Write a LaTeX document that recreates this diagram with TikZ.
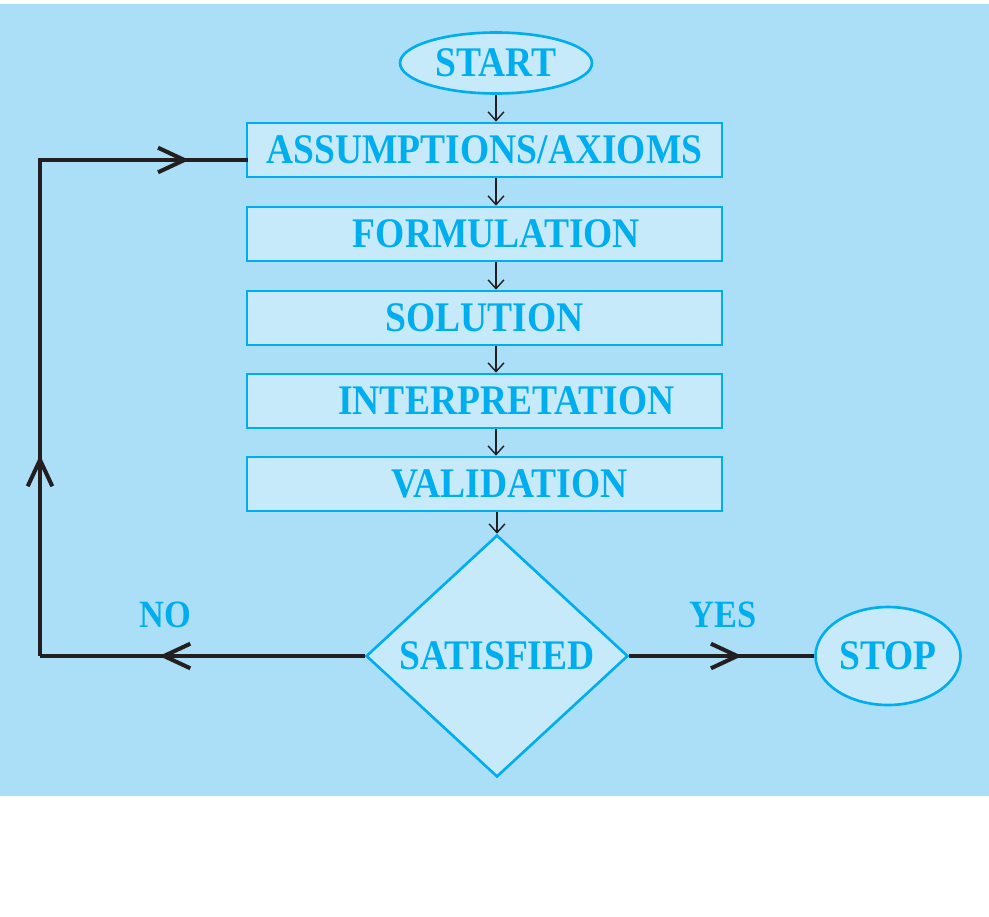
\documentclass[tikz,border=0pt]{standalone}
\usepackage{fontspec}
\newfontfamily\flowfont[FakeStretch=0.89]{Liberation Serif}
\usetikzlibrary{shapes.geometric,arrows.meta,decorations.markings}
\definecolor{skyback}{RGB}{171,223,248}
\definecolor{boxfill}{RGB}{199,234,250}
\definecolor{ncyan}{RGB}{0,174,239}
\definecolor{loopblack}{RGB}{35,31,32}
\tikzset{
 flowtext/.style={text=ncyan,font=\flowfont\bfseries\fontsize{24pt}{26pt}\selectfont},
 stepbox/.style={flowtext,draw=ncyan,fill=boxfill,line width=1.5pt,minimum width=9.5cm,minimum height=1.08cm,inner sep=0pt},
 ovalbox/.style={flowtext,ellipse,draw=ncyan,fill=boxfill,line width=1.5pt,inner sep=0pt},
 askbox/.style={flowtext,diamond,draw=ncyan,fill=boxfill,line width=1.5pt,inner sep=0pt,minimum width=5.24cm,minimum height=4.84cm},
 smallarrow/.style={draw=loopblack,line width=0.8pt,-{Straight Barb[length=5pt,width=9pt]}},
 bigtip/.tip={Straight Barb[length=15pt,width=14pt]},
 loopline/.style={draw=loopblack,line width=2.3pt,postaction={decorate},
  decoration={markings,mark=at position #1 with {\arrow{bigtip}}}},
}
\begin{document}
\begin{tikzpicture}[x=0.02cm,y=-0.02cm]
 \useasboundingbox (0,0) rectangle (989,916);
 \fill[skyback] (0,4) rectangle (989,796);
 % flow boxes
 \node[ovalbox,minimum width=3.84cm,minimum height=1.22cm] (start) at (496,63) {START};
 \node[stepbox] (assump) at (484.5,150) {ASSUMPTIONS/AXIOMS};
 \node[stepbox] (form) at (484.5,234) {\hspace*{0.48cm}FORMULATION};
 \node[stepbox] (sol) at (484.5,318) {SOLUTION};
 \node[stepbox] (interp) at (484.5,401) {\hspace*{0.88cm}INTERPRETATION};
 \node[stepbox] (valid) at (484.5,484) {\hspace*{1cm}VALIDATION};
 \node[askbox] (dec) at (497,656) {SATISFIED};
 \node[ovalbox,minimum width=2.9cm,minimum height=1.96cm] (stop) at (888,656) {STOP};
 \node[flowtext,font=\flowfont\bfseries\fontsize{22pt}{24pt}\selectfont] (no) at (165,615) {NO};
 \node[flowtext,font=\flowfont\bfseries\fontsize{22pt}{24pt}\selectfont] (yes) at (723,615) {YES};
 % down arrows
 \draw[smallarrow] (start) -- (assump.north -| start);
 \foreach \a/\b in {assump/form,form/sol,sol/interp,interp/valid}
  \draw[smallarrow] (\a.south -| start) -- (\b.north -| start);
 \draw[smallarrow] (valid.south -| dec.north) -- (dec.north);
 % feedback loop
 \coordinate (lowleft) at (40,656);
 \coordinate (upleft) at (40,160);
 \coordinate (assumpin) at (assump.west |- upleft);
 \draw[loopline=0.633] (dec.west) -- (lowleft);
 \draw[loopline=0.405] (lowleft) -- (upleft);
 \draw[loopline=0.725,line cap=rect] (upleft) -- (assumpin);
 \draw[loopline=0.61] (dec.east) -- (stop.west);
\end{tikzpicture}
\end{document}
